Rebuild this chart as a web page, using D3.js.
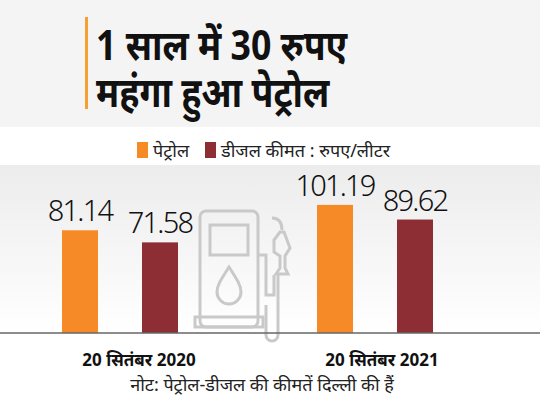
<!DOCTYPE html>
<html><head><meta charset="utf-8">
<script src="https://cdn.jsdelivr.net/npm/d3@7"></script>
<style>body{margin:0;background:#fff}svg{display:block}text{font-family:"Noto Sans","Noto Sans Devanagari",sans-serif}</style>
</head><body>
<svg id="c" width="540" height="405"></svg>
<script>
const dates = ["20 सितंबर 2020", "20 सितंबर 2021"];
const series = ["पेट्रोल", "डीजल"];
const petrol = [81.14, 101.19];
const diesel = [71.58, 89.62];
const colors = ["#f58a26", "#8c2e33"];

const svg = d3.select("#c");
const defs = svg.append("defs");
const g1 = defs.append("linearGradient").attr("id", "bg").attr("x1", 0).attr("y1", 0).attr("x2", 0).attr("y2", 1);
g1.append("stop").attr("offset", 0).attr("stop-color", "#ececec");
g1.append("stop").attr("offset", 1).attr("stop-color", "#ffffff");

// backgrounds
svg.append("rect").attr("width", 540).attr("height", 127).attr("fill", "#f4f4f4");
svg.append("rect").attr("y", 165).attr("width", 540).attr("height", 168).attr("fill", "url(#bg)");

// title
svg.append("rect").attr("x", 85).attr("y", 17).attr("width", 3).attr("height", 92).attr("fill", "#f5a030");
const title = svg.append("text").attr("transform", "translate(96,0) scale(0.87,1)")
  .attr("font-size", 41).attr("font-weight", "bold").attr("fill", "#111");
title.append("tspan").attr("x", 0).attr("y", 60).text("1 साल में 30 रुपए");
title.append("tspan").attr("x", 0).attr("y", 107).text("महंगा हुआ पेट्रोल");

// legend
const leg = [[137, series[0]], [205, series[1] + " कीमत : रुपए/लीटर"]];
leg.forEach((d, i) => {
  svg.append("rect").attr("x", d[0]).attr("y", 142).attr("width", 11).attr("height", 16).attr("fill", colors[i]);
  svg.append("text").attr("x", d[0] + 16).attr("y", 157).attr("font-size", 18).attr("fill", "#222").text(d[1]);
});

// scales
const base = 333;
const x0 = d3.scaleBand().domain(dates).range([-7.5, 502.5]);
const x1 = d3.scaleBand().domain(series).range([69.5, 185.5]).paddingInner(0.55);
const y = d3.scaleLinear().domain([0, 100]).range([base, base - 126.6]);

// pump icon
const ic = svg.append("g").attr("fill", "none").attr("stroke", "#c9c9c9").attr("stroke-width", 3);
ic.append("rect").attr("x", 200).attr("y", 211).attr("width", 58).attr("height", 116).attr("rx", 6);
ic.append("rect").attr("x", 210).attr("y", 225).attr("width", 38).attr("height", 30);
ic.append("rect").attr("x", 195).attr("y", 317).attr("width", 68).attr("height", 10);
ic.append("path").attr("d", "M229,267 C222,278 217,285 217,292 a12,12 0 0 0 24,0 C241,285 236,278 229,267 Z");
ic.append("path").attr("d", "M258,255 h8 v40 h8 v-20 M278,275 v60 a6,6 0 0 1 -12,0 v-30");
ic.append("path").attr("d", "M272,218 c8,0 10,6 10,12 M280,232 l-6,8 v12 l6,4 v12 l-4,6 h12 l-3,-6 v-12 l5,-8 l-6,-16 Z");

// bars
const rows = dates.map((d, i) => ({ date: d, vals: [petrol[i], diesel[i]] }));
const grp = svg.selectAll("g.grp").data(rows).join("g").attr("class", "grp")
  .attr("transform", d => `translate(${x0(d.date)},0)`);
grp.selectAll("rect").data(d => d.vals).join("rect")
  .attr("x", (d, i) => x1(series[i])).attr("width", x1.bandwidth())
  .attr("y", d => y(d)).attr("height", d => base - y(d))
  .attr("fill", (d, i) => colors[i]);
grp.selectAll("text.v").data(d => d.vals).join("text").attr("class", "v")
  .attr("x", (d, i) => x1(series[i]) + x1.bandwidth() / 2).attr("y", d => y(d) - 9)
  .attr("text-anchor", "middle").attr("font-size", 29).attr("font-weight", 300).attr("fill", "#111")
  .attr("letter-spacing", -1.8).attr("font-family", "Lato, sans-serif").text(d => d.toFixed(2));

// axis line
svg.append("line").attr("x1", 0).attr("x2", 540).attr("y1", base).attr("y2", base).attr("stroke", "#666").attr("stroke-width", 1.5);

// date labels
svg.selectAll("text.d").data(dates).join("text").attr("class", "d")
  .attr("x", (d, i) => x0(d) + x0.bandwidth() / 2 + (i ? 7 : 19)).attr("y", 366)
  .attr("text-anchor", "middle").attr("font-size", 17).attr("font-weight", "bold").attr("fill", "#111").text(d => d);

svg.append("text").attr("x", 262).attr("y", 391).attr("text-anchor", "middle").attr("font-size", 18).attr("fill", "#222")
  .text("नोट: पेट्रोल-डीजल की कीमतें दिल्ली की हैं");
</script>
</body></html>
